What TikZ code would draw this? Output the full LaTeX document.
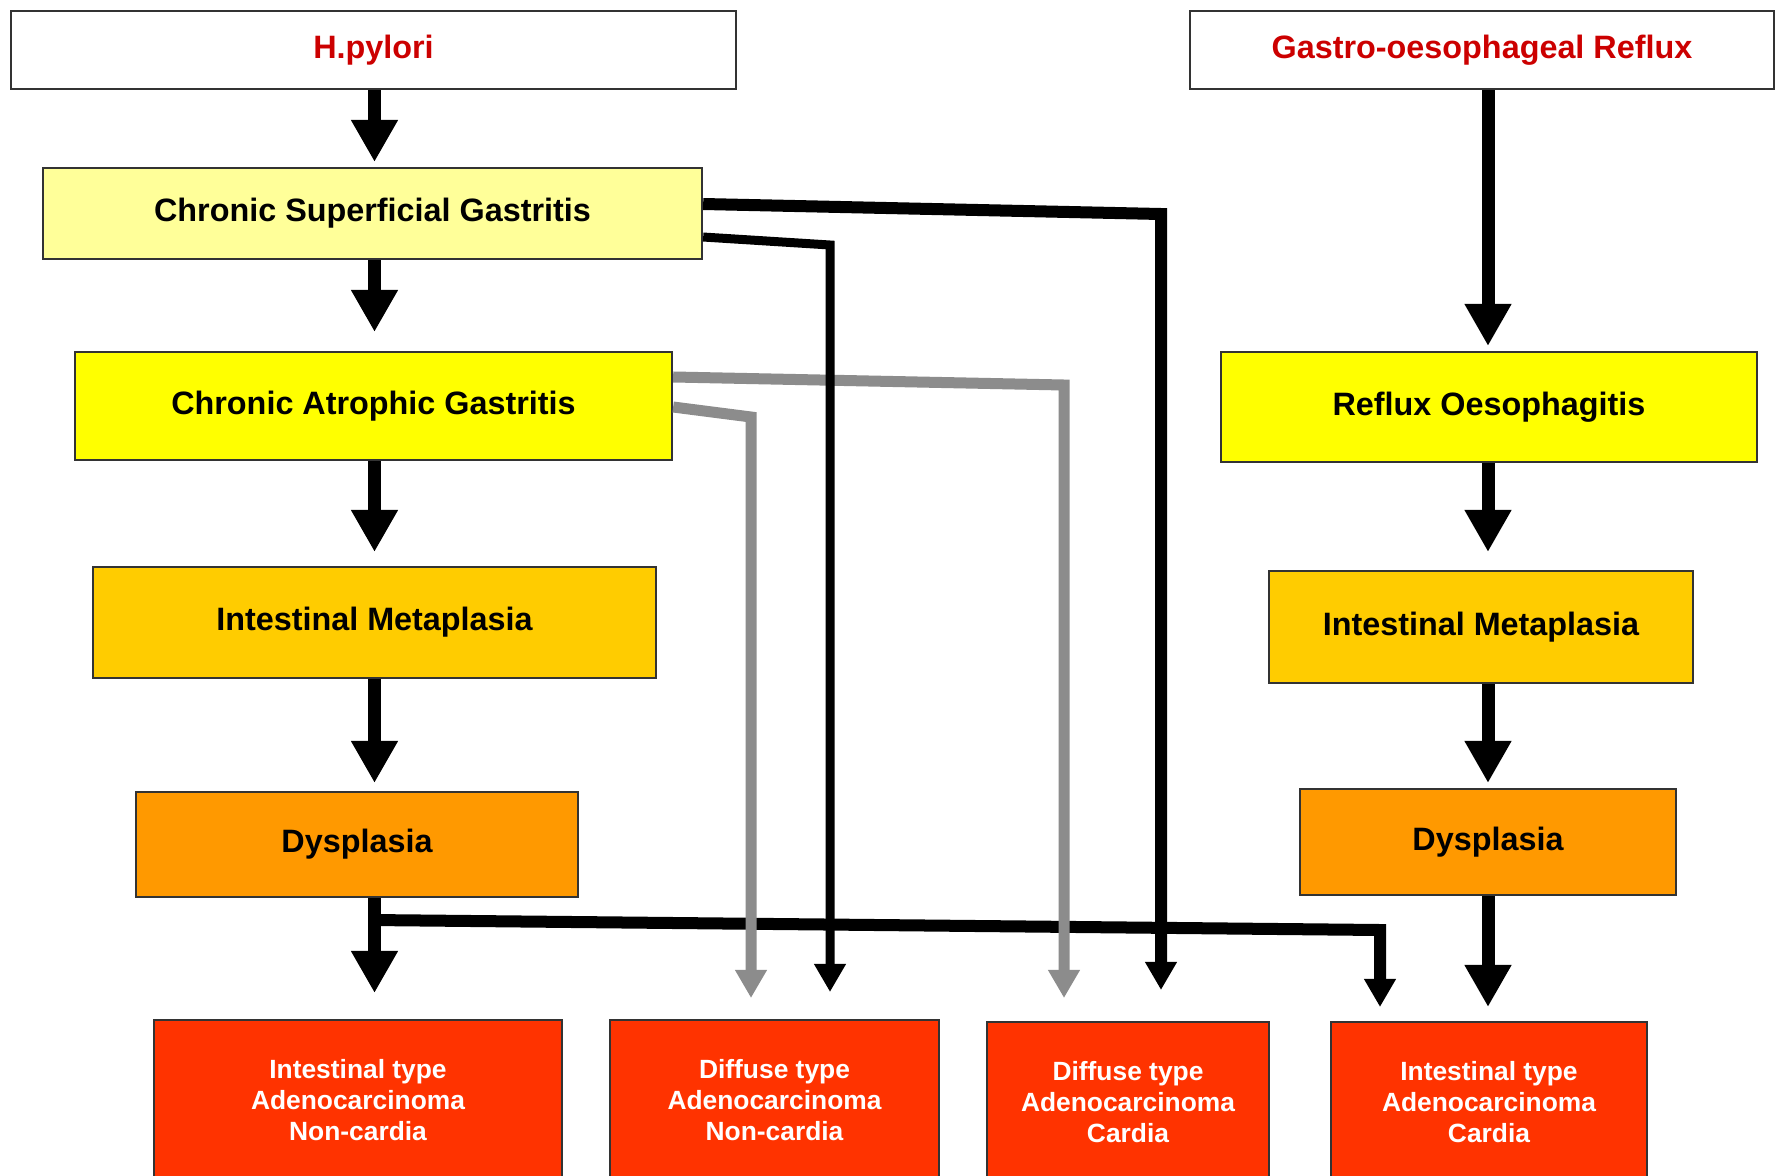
\documentclass[tikz,border=0pt]{standalone}
\usepackage{fontspec}
\setmainfont{Liberation Sans}
\usetikzlibrary{arrows.meta,calc}

\definecolor{hdred}{HTML}{CC0000}
\definecolor{csgfill}{HTML}{FFFF99}
\definecolor{cagfill}{HTML}{FFFF00}
\definecolor{imfill}{HTML}{FFCC00}
\definecolor{dysfill}{HTML}{FF9900}
\definecolor{cafill}{HTML}{FF3300}
\definecolor{boxline}{HTML}{333333}
\definecolor{linkgray}{HTML}{8C8C8C}

\tikzset{
  box/.style={draw=boxline, line width=0.02cm, inner sep=0pt, align=center,
    font=\bfseries\fontsize{9.2}{11}\selectfont},
  cabox/.style={box, fill=cafill, text=white, anchor=north, minimum height=1.6cm,
    font=\bfseries\fontsize{7.5}{8.8}\selectfont},
  mainarrow/.style={line width=0.13cm, -{Triangle[width=0.44cm,length=0.42cm]}},
  link/.style={-{Triangle[width=0.3cm,length=0.28cm]}},
}

\begin{document}
\begin{tikzpicture}[x=0.01cm, y=-0.01cm]
  \clip (0,0) rectangle (1781,1175);
  \fill[white] (0,0) rectangle (1781,1175);
  % stomach side
  \node[box, text=hdred, minimum width=7.25cm, minimum height=0.78cm] (hp) at (373.5,50) {H.pylori};
  \node[box, fill=csgfill, minimum width=6.59cm, minimum height=0.91cm] (csg) at (372.5,213.5) {Chronic Superficial Gastritis};
  \node[box, fill=cagfill, minimum width=5.97cm, minimum height=1.08cm] (cag) at (373.5,406) {Chronic Atrophic Gastritis};
  \node[box, fill=imfill, minimum width=5.63cm, minimum height=1.11cm] (iml) at (374.5,622.5) {Intestinal Metaplasia};
  \node[box, fill=dysfill, minimum width=4.42cm, minimum height=1.05cm] (dyl) at (357,844.5) {Dysplasia};
  % oesophagus side
  \node[box, text=hdred, minimum width=5.84cm, minimum height=0.78cm] (gor) at (1482,50) {Gastro-oesophageal Reflux};
  \node[box, fill=cagfill, minimum width=5.36cm, minimum height=1.10cm] (ro) at (1489,407) {Reflux Oesophagitis};
  \node[box, fill=imfill, minimum width=4.24cm, minimum height=1.12cm] (imr) at (1481,627) {Intestinal Metaplasia};
  \node[box, fill=dysfill, minimum width=3.76cm, minimum height=1.06cm] (dyr) at (1488,842) {Dysplasia};
  % cancers
  \node[cabox, minimum width=4.08cm] (b1) at (358,1019) {Intestinal type\\Adenocarcinoma\\Non-cardia};
  \node[cabox, minimum width=3.29cm] (b2) at (774.5,1019) {Diffuse type\\Adenocarcinoma\\Non-cardia};
  \node[cabox, minimum width=2.82cm] (b3) at (1128,1021) {Diffuse type\\Adenocarcinoma\\Cardia};
  \node[cabox, minimum width=3.16cm] (b4) at (1489,1021) {Intestinal type\\Adenocarcinoma\\Cardia};

  % main columns (arrows run down the x of iml / dyr)
  \foreach \a/\b/\c/\s in {hp/csg/iml/0.5, csg/cag/iml/1.9, cag/iml/iml/1.4, iml/dyl/iml/0.8, dyl/b1/iml/2.6,
                           gor/ro/dyr/0.5, ro/imr/dyr/1.8, imr/dyr/dyr/0.5, dyr/b4/dyr/1.4}
    \draw[mainarrow, shorten >=\s mm] (\a.south -| \c) -- (\b.north -| \c);

  % side links
  \coordinate (k1) at (1161,214);
  \coordinate (k2) at (830,245);
  \coordinate (k3) at (1064,385);
  \coordinate (k4) at (751,417);
  \coordinate (k5) at (1380,930);
  \draw[link, line width=0.12cm, shorten >=1.4mm] ($(dyl.south -| iml)+(0,22)$) -- (k5) -- (k5 |- b4.north);
  \draw[link, linkgray, line width=0.11cm, shorten >=2.3mm] ([yshift=0.29cm]cag.east) -- (k3) -- (k3 |- b3.north);
  \draw[link, linkgray, line width=0.11cm, shorten >=2.1mm] ([yshift=-0.01cm]cag.east) -- (k4) -- (k4 |- b2.north);
  \draw[link, line width=0.12cm, shorten >=3.1mm] ([yshift=0.095cm]csg.east) -- (k1) -- (k1 |- b3.north);
  \draw[link, line width=0.09cm, shorten >=2.7mm] ([yshift=-0.235cm]csg.east) -- (k2) -- (k2 |- b2.north);
\end{tikzpicture}
\end{document}
